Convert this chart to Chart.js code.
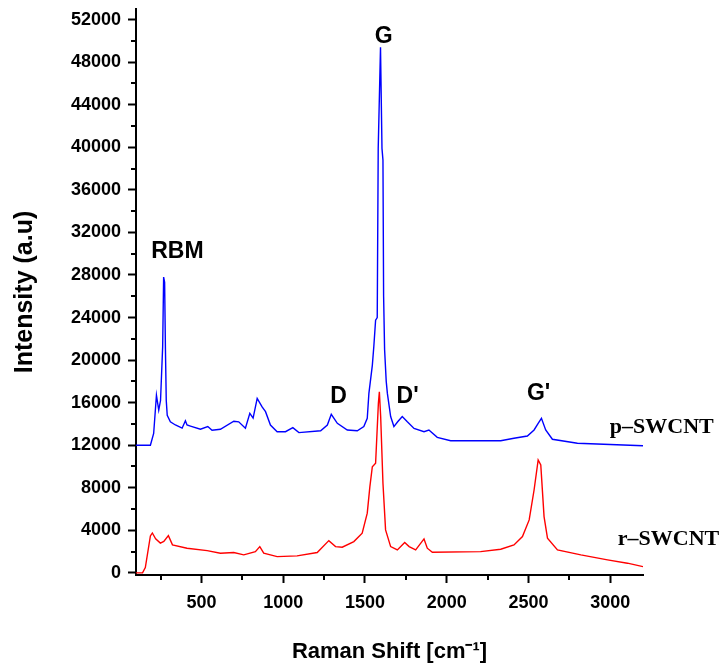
<!DOCTYPE html>
<html>
<head>
<meta charset="utf-8">
<script src="https://cdn.jsdelivr.net/npm/chart.js@4.4.1/dist/chart.umd.min.js"></script>
<style>
  html, body { margin: 0; padding: 0; background: #fff; }
  #wrap { width: 722px; height: 667px; }
</style>
</head>
<body>
<div id="wrap"><canvas id="ramanChart" width="722" height="667"></canvas></div>
<script>
// p-SWCNT spectrum
const pShift = [100, 188, 208, 225, 239, 250, 263, 269, 275, 280, 285, 291, 310, 341, 382, 402, 412, 433, 494, 539,
  565, 616, 698, 728, 769, 796, 816, 841, 871, 892, 922, 963, 1014, 1059, 1096, 1229, 1270, 1294, 1331, 1392,
  1453, 1493, 1514, 1524, 1545, 1554, 1565, 1575, 1581, 1595, 1604, 1610, 1614, 1620, 1630, 1637, 1657, 1677,
  1700, 1728, 1759, 1800, 1861, 1891, 1942, 2024, 2330, 2411, 2493, 2534, 2559, 2579, 2605, 2646, 2799, 3200];
const pIntensity = [12000, 12000, 13100, 16700, 15300, 16200, 21250, 27800, 27300, 21000, 16200, 14800, 14200, 13900, 13600, 14300, 13900, 13800, 13500, 13750,
  13400, 13500, 14250, 14200, 13600, 15000, 14550, 16400, 15600, 15150, 13900, 13270, 13270, 13650, 13180, 13360, 13900, 14900, 14060, 13430,
  13360, 13750, 14530, 16870, 19500, 21250, 23750, 24000, 39900, 49400, 39900, 38800, 26000, 21000, 18000, 16870, 14700, 13750,
  14200, 14700, 14200, 13580, 13270, 13430, 12740, 12420, 12420, 12650, 12860, 13430, 14060, 14530, 13430, 12560, 12180, 11950];

// r-SWCNT spectrum
const rShift = [100, 140, 157, 188, 200, 220, 249, 270, 298, 323, 412, 535, 616, 698, 759, 830, 857, 881, 963, 1085,
  1208, 1279, 1320, 1361, 1432, 1483, 1514, 1530, 1545, 1565, 1582, 1588, 1596, 1610, 1626, 1657, 1698, 1743, 1770, 1810,
  1861, 1881, 1912, 2207, 2330, 2411, 2463, 2504, 2534, 2559, 2575, 2595, 2616, 2677, 2820, 2983, 3105, 3200];
const rIntensity = [0, 0, 500, 3470, 3750, 3200, 2800, 2950, 3500, 2630, 2320, 2090, 1850, 1910, 1690, 2000, 2470, 1850, 1530, 1600,
  1910, 3030, 2470, 2410, 2940, 3730, 5610, 8100, 9980, 10300, 15930, 17020, 14700, 8420, 4040, 2470, 2160, 2850, 2470, 2160,
  3190, 2320, 1940, 2000, 2220, 2630, 3410, 4980, 7790, 10610, 10140, 5290, 3260, 2160, 1690, 1220, 910, 590];

const xTicks = [500, 1000, 1500, 2000, 2500, 3000];
const xMinor = [250, 750, 1250, 1750, 2250, 2750];
const yTicks = [0, 4000, 8000, 12000, 16000, 20000, 24000, 28000, 32000, 36000, 40000, 44000, 48000, 52000];
const yMinor = [2000, 6000, 10000, 14000, 18000, 22000, 26000, 30000, 34000, 38000, 42000, 46000, 50000];

// band names; x is the text centre, y is the baseline (data units)
const peakNames = ['RBM', 'G', 'D', "D'", "G'"];
const peakX = [353, 1614, 1338, 1761, 2562];
const peakY = [29600, 49800, 16000, 16000, 16250];

const sampleNames = ['p\u2013SWCNT', 'r\u2013SWCNT'];
const sampleX = [2997, 3046];
const sampleY = [13150, 2630];

const toPoints = (xs, ys) => xs.map((v, i) => ({ x: v, y: ys[i] }));

const labelsPlugin = {
  id: 'labelsPlugin',
  afterDraw(chart) {
    const { ctx, scales: { x, y } } = chart;
    ctx.save();
    ctx.strokeStyle = '#000';
    ctx.lineWidth = 2;
    // minor ticks
    xMinor.forEach(v => {
      const px = Math.round(x.getPixelForValue(v));
      ctx.beginPath(); ctx.moveTo(px, x.top); ctx.lineTo(px, x.top + 5); ctx.stroke();
    });
    yMinor.forEach(v => {
      const py = Math.round(y.getPixelForValue(v));
      ctx.beginPath(); ctx.moveTo(y.right, py); ctx.lineTo(y.right - 5, py); ctx.stroke();
    });

    ctx.fillStyle = '#000';
    ctx.textAlign = 'center';
    ctx.textBaseline = 'alphabetic';
    ctx.font = 'bold 23px "Liberation Sans", Arial, sans-serif';
    peakNames.forEach((t, i) => {
      ctx.fillText(t, x.getPixelForValue(peakX[i]), y.getPixelForValue(peakY[i]));
    });

    ctx.textAlign = 'left';
    ctx.font = 'bold 22px "Liberation Serif", "Times New Roman", serif';
    sampleNames.forEach((t, i) => {
      ctx.fillText(t, x.getPixelForValue(sampleX[i]), y.getPixelForValue(sampleY[i]));
    });
    ctx.restore();
  }
};

const tickFont = { family: '"Liberation Sans", Arial, sans-serif', size: 18, weight: 'bold' };

const config = {
  type: 'line',
  data: {
    datasets: [
      {
        label: sampleNames[0],
        data: toPoints(pShift, pIntensity),
        borderColor: '#0000ff',
        borderWidth: 1.4,
        pointRadius: 0,
        tension: 0,
        fill: false,
      },
      {
        label: sampleNames[1],
        data: toPoints(rShift, rIntensity),
        borderColor: '#ff0000',
        borderWidth: 1.4,
        pointRadius: 0,
        tension: 0,
        fill: false,
      },
    ],
  },
  options: {
    responsive: false,
    animation: false,
    devicePixelRatio: 1,
    layout: { padding: { left: 0, top: 9, right: 79, bottom: 0 } },
    plugins: { legend: { display: false }, tooltip: { enabled: false } },
    scales: {
      x: {
        type: 'linear',
        min: 100,
        max: 3200,
        afterBuildTicks: s => { s.ticks = xTicks.map(v => ({ value: v })); },
        afterFit: s => { s.height = 92; },
        grid: { drawOnChartArea: false, tickLength: 8, tickWidth: 2, tickColor: '#000' },
        border: { color: '#000', width: 2 },
        ticks: { color: '#000', font: tickFont, padding: 9, maxRotation: 0, callback: v => String(v) },
        title: {
          display: true,
          text: 'Raman Shift [cm\u207B\u00B9]',
          color: '#000',
          font: { family: '"Liberation Sans", Arial, sans-serif', size: 22, weight: 'bold' },
          padding: { top: 0, bottom: 2 },
        },
      },
      y: {
        min: -200,
        max: 53000,
        afterBuildTicks: s => { s.ticks = yTicks.map(v => ({ value: v })); },
        afterFit: s => { s.width = 136; s.paddingTop = 0; s.paddingBottom = 0; },
        grid: { drawOnChartArea: false, tickLength: 8, tickWidth: 2, tickColor: '#000' },
        border: { color: '#000', width: 2 },
        ticks: { color: '#000', font: tickFont, padding: 7, callback: v => String(v) },
        title: {
          display: true,
          text: 'Intensity (a.u)',
          color: '#000',
          font: { family: '"Liberation Sans", Arial, sans-serif', size: 25, weight: 'bold' },
          padding: { top: 10, bottom: 0 },
        },
      },
    },
  },
  plugins: [labelsPlugin],
};

const ramanChart = new Chart(document.getElementById('ramanChart'), config);
</script>
</body>
</html>
